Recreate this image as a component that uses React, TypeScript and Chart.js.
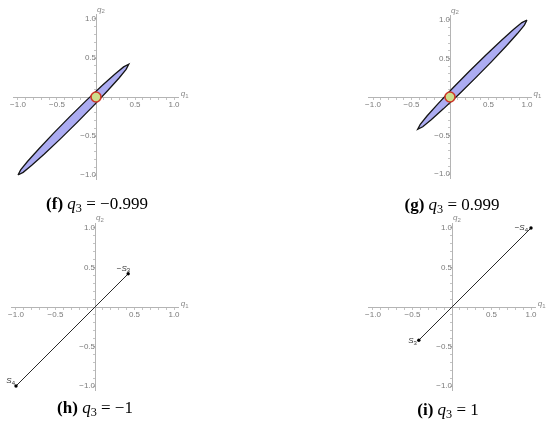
import React, { useEffect, useRef } from 'react';
import { Chart, registerables } from 'chart.js';
Chart.register(...registerables);

// ---- data ----
const majorTicks = [-1, -0.5, 0.5, 1];
const tickLabels = ['−1.0', '−0.5', '0.5', '1.0'];
const minorTicks = [-1, -0.9, -0.8, -0.7, -0.6, -0.5, -0.4, -0.3, -0.2, -0.1, 0, 0.1, 0.2, 0.3, 0.4, 0.5, 0.6, 0.7, 0.8, 0.9, 1];

// (f) q3 = -0.999 : boundary of the thin region
const ellipseFQ1 = [-1, -0.966, -0.876, -0.734, -0.54, -0.332, -0.12, 0.086, 0.244, 0.354, 0.42, 0.386, 0.296, 0.154, -0.04, -0.248, -0.46, -0.666, -0.824, -0.934, -1];
const ellipseFQ2 = [-1, -0.934, -0.824, -0.666, -0.46, -0.248, -0.04, 0.154, 0.296, 0.386, 0.42, 0.354, 0.244, 0.086, -0.12, -0.332, -0.54, -0.734, -0.876, -0.966, -1];
// (g) q3 = 0.999
const ellipseGQ1 = [1, 0.966, 0.876, 0.734, 0.54, 0.332, 0.12, -0.086, -0.244, -0.354, -0.42, -0.386, -0.296, -0.154, 0.04, 0.248, 0.46, 0.666, 0.824, 0.934, 1];
const ellipseGQ2 = [1, 0.934, 0.824, 0.666, 0.46, 0.248, 0.04, -0.154, -0.296, -0.386, -0.42, -0.354, -0.244, -0.086, 0.12, 0.332, 0.54, 0.734, 0.876, 0.966, 1];
const originQ1 = [0];
const originQ2 = [0];
// (h) q3 = -1 segment
const segHQ1 = [-1, 0.42];
const segHQ2 = [-1, 0.42];
const segHLabels = [{ pre: '', base: 'S', sub: '4' }, { pre: '−', base: 'S', sub: '3' }];
// (i) q3 = 1 segment
const segIQ1 = [-0.42, 1];
const segIQ2 = [-0.42, 1];
const segILabels = [{ pre: '', base: 'S', sub: '3' }, { pre: '−', base: 'S', sub: '4' }];

const captionLetters = ['f', 'g', 'h', 'i'];
const captionValues = ['−0.999', '0.999', '−1', '1'];

// ---- helpers ----
const R = 1.06;
const SIZE = 190;
const tickFont = { family: '"Liberation Sans", Arial, sans-serif', size: 8 };

function pts(a: number[], b: number[]) {
  return a.map((v, i) => ({ x: v, y: b[i] }));
}

function scaleOpts(axis: 'x' | 'y') {
  return {
    type: 'linear',
    min: -R,
    max: R,
    position: axis === 'x' ? { y: 0 } : { x: 0 },
    afterBuildTicks: (s: any) => {
      s.ticks = minorTicks.map((v) => ({ value: v }));
    },
    ticks: {
      autoSkip: false,
      maxRotation: 0,
      padding: 1,
      color: '#7a7a7a',
      font: tickFont,
      callback: (v: any) => {
        const i = majorTicks.findIndex((m) => Math.abs(m - Number(v)) < 1e-6);
        return i >= 0 ? tickLabels[i] : '';
      },
    },
    grid: { drawOnChartArea: false, drawTicks: true, tickLength: 2, color: '#c4c4c4' },
    border: { display: true, color: '#b4b4b4', width: 1 },
  };
}

function drawSubText(ctx: CanvasRenderingContext2D, lab: any, x: number, y: number) {
  ctx.save();
  ctx.fillStyle = '#333';
  ctx.textBaseline = 'middle';
  ctx.textAlign = 'left';
  const f1 = 'italic 8px "Liberation Sans", Arial, sans-serif';
  const f0 = '8px "Liberation Sans", Arial, sans-serif';
  const f2 = '6px "Liberation Sans", Arial, sans-serif';
  ctx.font = f0;
  const w0 = ctx.measureText(lab.pre).width;
  ctx.font = f1;
  const w1 = ctx.measureText(lab.base).width;
  ctx.font = f2;
  const w2 = ctx.measureText(lab.sub).width;
  let cx = x - (w0 + w1 + w2);
  ctx.font = f0;
  ctx.fillText(lab.pre, cx, y);
  cx += w0;
  ctx.font = f1;
  ctx.fillText(lab.base, cx, y);
  cx += w1;
  ctx.font = f2;
  ctx.fillText(lab.sub, cx, y + 2);
  ctx.restore();
}

function axisLabelPlugin(labels?: { q1: number; q2: number; lab: any; dx: number; dy: number }[]) {
  return {
    id: 'axisLabels',
    afterDatasetsDraw(chart: any) {
      const { ctx, chartArea, scales } = chart;
      const x0 = scales.x.getPixelForValue(0);
      const y0 = scales.y.getPixelForValue(0);
      ctx.save();
      ctx.fillStyle = '#8a8a8a';
      ctx.textBaseline = 'middle';
      ctx.textAlign = 'left';
      ctx.font = 'italic 8px "Liberation Sans", Arial, sans-serif';
      ctx.fillText('q', chartArea.right + 2, y0 - 3);
      ctx.fillText('q', x0 + 1, chartArea.top - 5);
      ctx.font = '6px "Liberation Sans", Arial, sans-serif';
      ctx.fillText('1', chartArea.right + 6.5, y0 - 1);
      ctx.fillText('2', x0 + 5.5, chartArea.top - 3);
      ctx.restore();
      if (labels) {
        labels.forEach((l) => {
          const px = scales.x.getPixelForValue(l.q1);
          const py = scales.y.getPixelForValue(l.q2);
          drawSubText(ctx, l.lab, px + l.dx, py + l.dy);
        });
      }
    },
  };
}

type PanelProps = {
  cx: number;
  cy: number;
  k: number;
  datasets: any[];
  labels?: { q1: number; q2: number; lab: any; dx: number; dy: number }[];
};

function Panel({ cx, cy, k, datasets, labels }: PanelProps) {
  const ref = useRef<HTMLCanvasElement | null>(null);
  useEffect(() => {
    if (!ref.current) return;
    const pad = (SIZE - 2 * k * R) / 2;
    const chart = new Chart(ref.current, {
      type: 'line',
      data: { datasets },
      options: {
        responsive: false,
        animation: false,
        layout: { padding: pad },
        plugins: { legend: { display: false }, tooltip: { enabled: false } },
        scales: { x: scaleOpts('x') as any, y: scaleOpts('y') as any },
      },
      plugins: [axisLabelPlugin(labels)],
    } as any);
    return () => chart.destroy();
  }, []);
  return (
    <canvas
      ref={ref}
      width={SIZE}
      height={SIZE}
      style={{ position: 'absolute', left: cx - SIZE / 2, top: cy - SIZE / 2, width: SIZE, height: SIZE }}
    />
  );
}

function originDataset() {
  return {
    data: pts(originQ1, originQ2),
    showLine: false,
    pointRadius: 5,
    pointBackgroundColor: 'rgb(206,222,140)',
    pointBorderColor: 'rgb(205,55,40)',
    pointBorderWidth: 1.6,
  };
}

function regionDataset(a: number[], b: number[]) {
  return {
    data: pts(a, b),
    showLine: true,
    fill: 'shape',
    tension: 0,
    backgroundColor: 'rgb(172,172,242)',
    borderColor: '#151515',
    borderWidth: 1.3,
    pointRadius: 0,
  };
}

function segDataset(a: number[], b: number[]) {
  return {
    data: pts(a, b),
    showLine: true,
    fill: false,
    borderColor: '#2a2a2a',
    borderWidth: 1,
    pointRadius: 1.7,
    pointBackgroundColor: '#000',
    pointBorderColor: '#000',
    pointBorderWidth: 0,
  };
}

function Caption({ cx, cy, idx }: { cx: number; cy: number; idx: number }) {
  return (
    <div
      style={{
        position: 'absolute',
        left: cx - 110,
        width: 220,
        top: cy - 11,
        height: 22,
        lineHeight: '22px',
        textAlign: 'center',
        fontFamily: '"Liberation Serif", "DejaVu Serif", serif',
        fontSize: 17,
        color: '#000',
        whiteSpace: 'nowrap',
      }}
    >
      <b>({captionLetters[idx]})</b> <i>q</i>
      <span style={{ fontSize: '0.72em', position: 'relative', top: '0.28em' }}>3</span> = {captionValues[idx]}
    </div>
  );
}

export default function App() {
  return (
    <div style={{ position: 'fixed', left: 0, top: 0, width: 550, height: 425, background: '#fff', overflow: 'hidden' }}>
      <Panel cx={95.5} cy={97} k={78} datasets={[originDataset(), regionDataset(ellipseFQ1, ellipseFQ2)]} />
      <Panel cx={450} cy={97} k={77} datasets={[originDataset(), regionDataset(ellipseGQ1, ellipseGQ2)]} />
      <Panel
        cx={95}
        cy={306.5}
        k={79}
        datasets={[segDataset(segHQ1, segHQ2)]}
        labels={[
          { q1: segHQ1[0], q2: segHQ2[0], lab: segHLabels[0], dx: -1, dy: -5 },
          { q1: segHQ1[1], q2: segHQ2[1], lab: segHLabels[1], dx: 2, dy: -5 },
        ]}
      />
      <Panel
        cx={452}
        cy={306.5}
        k={79}
        datasets={[segDataset(segIQ1, segIQ2)]}
        labels={[
          { q1: segIQ1[0], q2: segIQ2[0], lab: segILabels[0], dx: -2, dy: 1 },
          { q1: segIQ1[1], q2: segIQ2[1], lab: segILabels[1], dx: -3, dy: 0 },
        ]}
      />
      <Caption cx={97} cy={204} idx={0} />
      <Caption cx={452} cy={205} idx={1} />
      <Caption cx={95} cy={408} idx={2} />
      <Caption cx={448} cy={410} idx={3} />
    </div>
  );
}
